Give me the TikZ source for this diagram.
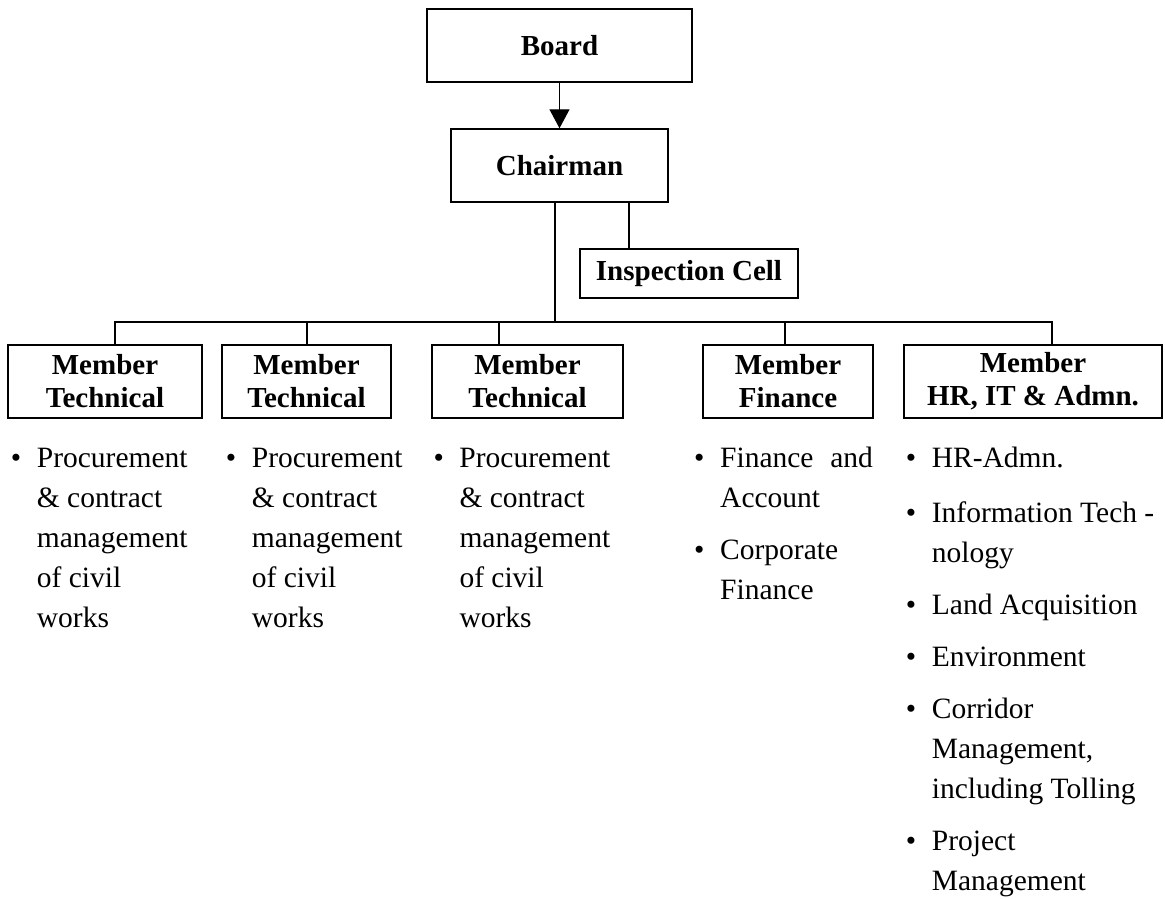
\documentclass[tikz,border=0pt]{standalone}
\usepackage{fontspec}
\setmainfont{Liberation Serif}
\usetikzlibrary{arrows.meta}

% bullet and hanging indent for the duty lists
\newcommand{\bul}{\strut\makebox[26pt][l]{\textbullet}}
\newcommand{\ind}{\strut\hspace*{26pt}}

\begin{document}
\begin{tikzpicture}[x=1pt, y=-1pt,
    box/.style={draw, line width=1.4pt, inner sep=0pt, align=center,
      font=\fontsize{29}{33}\selectfont\bfseries},
    member/.style={box, minimum height=73pt},
    duties/.style={anchor=north west, inner sep=0pt, align=left,
      font=\fontsize{29.5}{40}\selectfont},
    wire/.style={line width=1.2pt}]
  \useasboundingbox (0,0) rectangle (1165,899);

  % Draw the boxes at the top
  \node[box, minimum width=265pt, minimum height=73pt] (board) at (559.5,45.5) {Board};
  \node[box, minimum width=217pt, minimum height=73pt] (chair) at (559.5,165.5) {Chairman};
  \node[box, minimum width=218pt, minimum height=49pt] (cell) at (689,273.5) {Inspection Cell};

  \draw[wire, -{Triangle[length=19pt,width=20pt]}] (board) -- (chair);
  \draw[wire] ([xshift=69.5pt]chair.south) -- ([xshift=69.5pt]chair.south |- cell.north);

  % Draw the member boxes
  \node[member, minimum width=194pt] (m1) at (105,381.5) {Member\\Technical};
  \node[member, minimum width=169pt] (m2) at (306.5,381.5) {Member\\Technical};
  \node[member, minimum width=191pt] (m3) at (527.5,381.5) {Member\\Technical};
  \node[member, minimum width=170pt] (m4) at (788,381.5) {Member\\Finance};
  \node[member, minimum width=258pt] (m5) at (1033,381.5) {Member\\HR, IT \& Admn.};

  % Draw the bus from the chairman to the members
  \coordinate (bus) at (555,322);
  \coordinate (t1) at (115,322);
  \coordinate (t2) at (307,322);
  \coordinate (t3) at (499,322);
  \coordinate (t4) at (785,322);
  \coordinate (t5) at (1052,322);

  \draw[wire] ([xshift=-4.5pt]chair.south) -- (bus);
  \draw[wire] (t1 |- m1.north) -- (t1) -- (t5) -- (t5 |- m5.north);
  \draw[wire] (t2) -- (t2 |- m2.north);
  \draw[wire] (t3) -- (t3 |- m3.north);
  \draw[wire] (t4) -- (t4 |- m4.north);

  % Draw the duties under each member
  \node[duties] (d1) at (10.7,439) {\bul Procurement\\\ind\& contract\\\ind management\\\ind of civil\\\ind works};
  \node[duties] (d2) at (225.7,439) {\bul Procurement\\\ind\& contract\\\ind management\\\ind of civil\\\ind works};
  \node[duties] (d3) at (433.3,439) {\bul Procurement\\\ind\& contract\\\ind management\\\ind of civil\\\ind works};
  \node[duties] (d4) at (694,439) {\bul\makebox[152.7pt][s]{Finance and}\\\ind Account\\[12pt]
    \bul Corporate\\\ind Finance};
  \node[duties] (d5) at (905.7,439) {\bul HR-Admn.\\[15pt]
    \bul Information Tech -\\\ind nology\\[12pt]
    \bul Land Acquisition\\[12pt]
    \bul Environment\\[12pt]
    \bul Corridor\\\ind Management,\\\ind including Tolling\\[12pt]
    \bul Project\\\ind Management};

\end{tikzpicture}
\end{document}
